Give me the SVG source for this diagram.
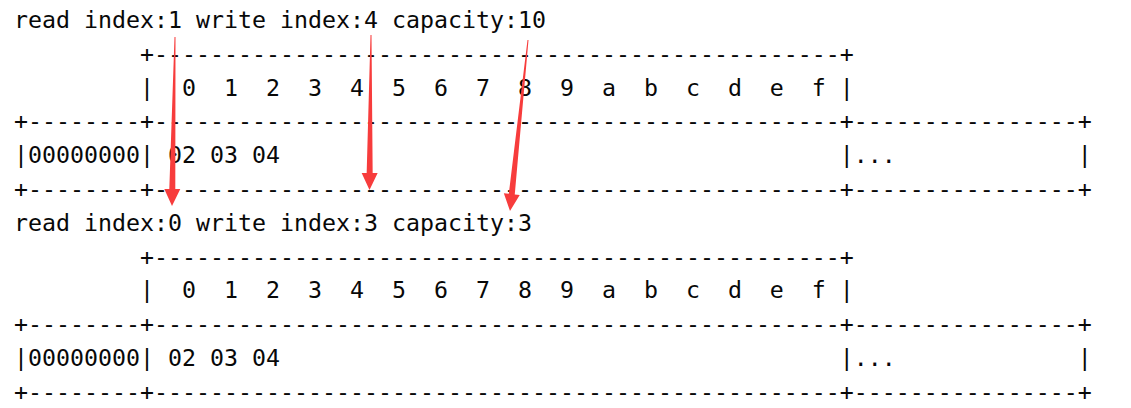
<svg xmlns="http://www.w3.org/2000/svg" width="1131" height="408" viewBox="0 0 1131 408">
<style>
text{font-family:"DejaVu Sans Mono","Liberation Mono",monospace;font-size:23.25px;fill:#080808;white-space:pre}
.arrow{fill:#f73c3c}
</style>
<rect width="1131" height="408" fill="#ffffff"/>
<g id="dump1">
<text x="14" y="28">read index:1 write index:4 capacity:10</text>
<text x="14" y="61.8">         +-------------------------------------------------+</text>
<text x="14" y="95.6">         |  0  1  2  3  4  5  6  7  8  9  a  b  c  d  e  f |</text>
<text x="14" y="129.4">+--------+-------------------------------------------------+----------------+</text>
<text x="14" y="163.2">|00000000| 02 03 04                                        |...             |</text>
<text x="14" y="197">+--------+-------------------------------------------------+----------------+</text>
</g>
<g id="dump2">
<text x="14" y="230.8">read index:0 write index:3 capacity:3</text>
<text x="14" y="264.6">         +-------------------------------------------------+</text>
<text x="14" y="298.4">         |  0  1  2  3  4  5  6  7  8  9  a  b  c  d  e  f |</text>
<text x="14" y="332.2">+--------+-------------------------------------------------+----------------+</text>
<text x="14" y="366">|00000000| 02 03 04                                        |...             |</text>
<text x="14" y="399.8">+--------+-------------------------------------------------+----------------+</text>
</g>
<g id="connectors">
<polygon class="arrow" points="175.5,37 175.3,189.1 180.3,189.1 172,206 164.3,188.9 169.3,188.9 174.5,37"/>
<polygon class="arrow" points="371.5,35 372.66,173.03 377.66,173.08 369.5,190 361.66,172.92 366.66,172.97 370.5,35"/>
<polygon class="arrow" points="528.5,40.05 514.76,194.4 519.74,194.93 510,211 503.82,193.25 508.8,193.78 527.5,39.95"/>
</g>
</svg>
